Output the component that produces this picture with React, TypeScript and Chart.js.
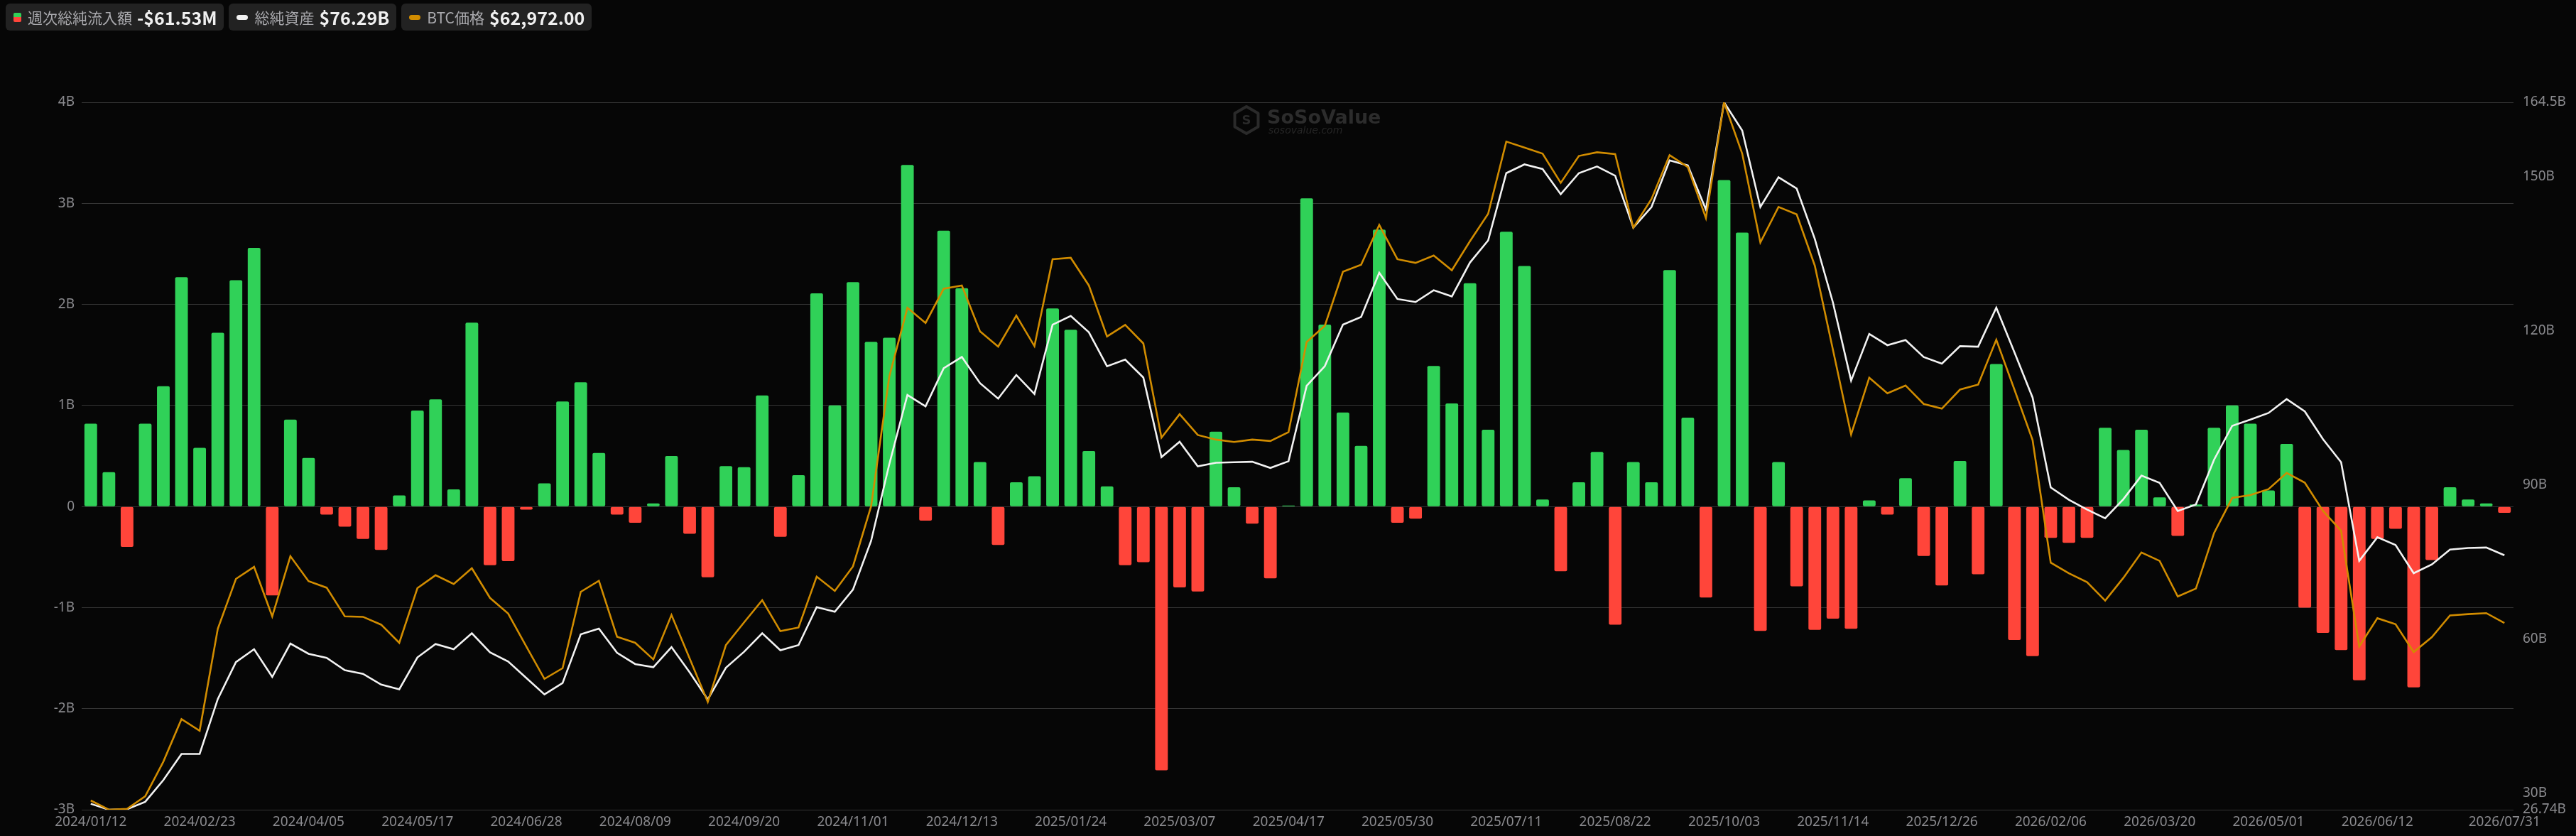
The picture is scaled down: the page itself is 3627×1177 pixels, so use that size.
import React, { useEffect, useRef } from "react";
import { Chart, registerables } from "chart.js";

Chart.register(...registerables);

// ---------- data ----------
const WEEKS: string[] = [
  "2024/01/12", "2024/01/19", "2024/01/26", "2024/02/02", "2024/02/09", "2024/02/16", "2024/02/23", "2024/03/01",
  "2024/03/08", "2024/03/15", "2024/03/22", "2024/03/28", "2024/04/05", "2024/04/12", "2024/04/19", "2024/04/26",
  "2024/05/03", "2024/05/10", "2024/05/17", "2024/05/24", "2024/05/31", "2024/06/07", "2024/06/14", "2024/06/21",
  "2024/06/28", "2024/07/05", "2024/07/12", "2024/07/19", "2024/07/26", "2024/08/02", "2024/08/09", "2024/08/16",
  "2024/08/23", "2024/08/30", "2024/09/06", "2024/09/13", "2024/09/20", "2024/09/27", "2024/10/04", "2024/10/11",
  "2024/10/18", "2024/10/25", "2024/11/01", "2024/11/08", "2024/11/15", "2024/11/22", "2024/11/29", "2024/12/06",
  "2024/12/13", "2024/12/20", "2024/12/27", "2025/01/03", "2025/01/10", "2025/01/17", "2025/01/24", "2025/01/31",
  "2025/02/07", "2025/02/14", "2025/02/21", "2025/02/28", "2025/03/07", "2025/03/14", "2025/03/21", "2025/03/28",
  "2025/04/04", "2025/04/11", "2025/04/17", "2025/04/25", "2025/05/02", "2025/05/09", "2025/05/16", "2025/05/23",
  "2025/05/30", "2025/06/06", "2025/06/13", "2025/06/20", "2025/06/27", "2025/07/03", "2025/07/11", "2025/07/18",
  "2025/07/25", "2025/08/01", "2025/08/08", "2025/08/15", "2025/08/22", "2025/08/29", "2025/09/05", "2025/09/12",
  "2025/09/19", "2025/09/26", "2025/10/03", "2025/10/10", "2025/10/17", "2025/10/24", "2025/10/31", "2025/11/07",
  "2025/11/14", "2025/11/21", "2025/11/28", "2025/12/05", "2025/12/12", "2025/12/19", "2025/12/26", "2026/01/02",
  "2026/01/09", "2026/01/16", "2026/01/23", "2026/01/30", "2026/02/06", "2026/02/13", "2026/02/20", "2026/02/27",
  "2026/03/06", "2026/03/13", "2026/03/20", "2026/03/27", "2026/04/02", "2026/04/10", "2026/04/17", "2026/04/24",
  "2026/05/01", "2026/05/08", "2026/05/15", "2026/05/22", "2026/05/29", "2026/06/05", "2026/06/12", "2026/06/19",
  "2026/06/26", "2026/07/02", "2026/07/10", "2026/07/17", "2026/07/24", "2026/07/31",
];

// weekly total net inflow, billions USD
const NET_INFLOW_B: number[] = [
  0.82, 0.34, -0.4, 0.82, 1.19, 2.27, 0.58, 1.72, 2.24, 2.56,
  -0.88, 0.86, 0.48, -0.08, -0.2, -0.32, -0.43, 0.11, 0.95, 1.06,
  0.17, 1.82, -0.58, -0.54, -0.03, 0.23, 1.04, 1.23, 0.53, -0.08,
  -0.16, 0.03, 0.5, -0.27, -0.7, 0.4, 0.39, 1.1, -0.3, 0.31,
  2.11, 1.0, 2.22, 1.63, 1.67, 3.38, -0.14, 2.73, 2.16, 0.44,
  -0.38, 0.24, 0.3, 1.96, 1.75, 0.55, 0.2, -0.58, -0.55, -2.61,
  -0.8, -0.84, 0.74, 0.19, -0.17, -0.71, 0.01, 3.05, 1.8, 0.93,
  0.6, 2.74, -0.16, -0.12, 1.39, 1.02, 2.21, 0.76, 2.72, 2.38,
  0.07, -0.64, 0.24, 0.54, -1.17, 0.44, 0.24, 2.34, 0.88, -0.9,
  3.23, 2.71, -1.23, 0.44, -0.79, -1.22, -1.11, -1.21, 0.06, -0.08,
  0.28, -0.49, -0.78, 0.45, -0.67, 1.41, -1.32, -1.48, -0.31, -0.36,
  -0.31, 0.78, 0.56, 0.76, 0.09, -0.29, 0.02, 0.78, 1.0, 0.82,
  0.16, 0.62, -1.0, -1.25, -1.42, -1.72, -0.32, -0.22, -1.79, -0.53,
  0.19, 0.07, 0.03, -0.06153,
];

// total net assets, billions USD
const TOTAL_ASSETS_B: number[] = [
  27.9, 26.74, 26.84, 28.28, 32.51, 37.6, 37.6, 48.3, 55.5, 58.0,
  52.6, 59.1, 57.1, 56.3, 53.9, 53.2, 51.1, 50.2, 56.4, 59.0,
  58.0, 61.1, 57.4, 55.6, 52.4, 49.2, 51.4, 60.9, 62.0, 57.3,
  55.1, 54.5, 58.4, 53.5, 48.2, 54.4, 57.5, 61.1, 57.8, 58.8,
  66.2, 65.3, 69.6, 79.1, 94.0, 107.5, 105.3, 112.7, 114.9, 109.8,
  106.8, 111.4, 107.7, 121.2, 122.9, 119.7, 113.1, 114.4, 110.9, 95.4,
  98.4, 93.6, 94.3, 94.4, 94.5, 93.3, 94.6, 109.3, 113.1, 121.2,
  122.7, 131.3, 126.2, 125.6, 127.9, 126.7, 133.3, 137.6, 150.7, 152.4,
  151.5, 146.6, 150.7, 152.0, 150.2, 140.1, 144.1, 153.2, 152.2, 143.6,
  164.5, 159.0, 144.1, 149.9, 147.7, 137.9, 125.5, 110.3, 119.4, 117.2,
  118.2, 114.9, 113.6, 117.0, 116.9, 124.5, 115.8, 107.0, 89.5, 87.1,
  85.2, 83.5, 87.2, 91.8, 90.4, 84.9, 86.2, 94.9, 101.5, 102.7,
  104.0, 106.7, 104.3, 98.9, 94.4, 75.2, 79.8, 78.3, 72.8, 74.5,
  77.4, 77.7, 77.8, 76.29,
];

// BTC price, USD
const BTC_PRICE: number[] = [
  42810, 41760, 41860, 43280, 47220, 52060, 50740, 62310, 67990, 69360,
  63730, 70570, 67730, 66990, 63730, 63680, 62790, 60730, 66940, 68410,
  67410, 69200, 65830, 64050, 60310, 56630, 57840, 66520, 67780, 61420,
  60730, 58840, 63890, 58950, 54000, 60470, 63050, 65570, 62050, 62470,
  68250, 66620, 69410, 76250, 90970, 98800, 97070, 100960, 101330, 96120,
  94390, 97910, 94440, 104320, 104480, 101330, 95540, 96860, 94750, 84030,
  86710, 84340, 83820, 83550, 83820, 83660, 84660, 94910, 96750, 102900,
  103690, 108210, 104320, 103900, 104740, 103060, 106370, 109480, 117680, 117000,
  116310, 113000, 116050, 116470, 116260, 107900, 111160, 116150, 114790, 109000,
  122150, 116310, 106220, 110260, 109420, 103590, 94020, 84400, 90860, 89080,
  89970, 87870, 87340, 89500, 90070, 95170, 89500, 83760, 69830, 68620,
  67620, 65520, 68100, 70990, 70040, 65990, 66890, 73200, 77190, 77510,
  78190, 80030, 78930, 75720, 73460, 60310, 63520, 62840, 59680, 61370,
  63840, 63990, 64100, 62972,
];

const LEFT_MIN = -3;
const LEFT_MAX = 4;
const LEFT_STEP = 1;
const RIGHT_TICKS = [30, 60, 90, 120, 150];
const X_LABEL_EVERY = 6;

const LEGEND_LABELS = ["週次総純流入額", "総純資産", "BTC価格"];

// ---------- styles ----------
const GREEN = "#30d158";
const RED = "#ff453a";
const WHITE = "#f2f2f2";
const ORANGE = "#d18c00";
const GRID = "#343434";
const TICK = "#8a8a8e";
const BG = "#060606";

const W = 3627;
const H = 1177;

function fmtB(v: number): string {
  const s = Number.isInteger(v) ? String(v) : String(Math.round(v * 100) / 100);
  return s + "B";
}

const watermark = {
  id: "watermark",
  beforeDatasetsDraw(chart: any) {
    const ctx = chart.ctx;
    ctx.save();
    const cx = 1755;
    const cy = 169;
    const r = 19;
    ctx.strokeStyle = "#2a2a2a";
    ctx.fillStyle = "#2a2a2a";
    ctx.lineWidth = 4;
    ctx.lineJoin = "round";
    ctx.beginPath();
    for (let k = 0; k < 6; k++) {
      const a = Math.PI / 6 + (k * Math.PI) / 3;
      const px = cx + r * Math.cos(a);
      const py = cy + r * Math.sin(a);
      if (k === 0) ctx.moveTo(px, py);
      else ctx.lineTo(px, py);
    }
    ctx.closePath();
    ctx.stroke();
    ctx.font = "bold 18px 'DejaVu Sans', sans-serif";
    ctx.textAlign = "center";
    ctx.textBaseline = "middle";
    ctx.fillText("S", cx, cy + 1);
    ctx.textAlign = "left";
    ctx.textBaseline = "alphabetic";
    ctx.fillStyle = "#2c2c2c";
    ctx.font = "bold 27px 'DejaVu Sans', sans-serif";
    ctx.fillText("SoSoValue", 1784, 174);
    ctx.fillStyle = "#262626";
    ctx.font = "italic 14px 'DejaVu Sans', sans-serif";
    ctx.fillText("sosovalue.com", 1786, 188);
    ctx.restore();
  },
};

export default function App() {
  const canvasRef = useRef<HTMLCanvasElement | null>(null);

  useEffect(() => {
    const canvas = canvasRef.current;
    if (!canvas) return;
    const btcMin = Math.min(...BTC_PRICE);
    const btcMax = Math.max(...BTC_PRICE);
    const aMin = Math.min(...TOTAL_ASSETS_B);
    const aMax = Math.max(...TOTAL_ASSETS_B);
    const last = WEEKS.length - 1;

    const chart = new Chart(canvas, {
      type: "bar",
      data: {
        labels: WEEKS,
        datasets: [
          {
            type: "line",
            label: "BTC価格",
            data: BTC_PRICE,
            yAxisID: "yBtc",
            borderColor: ORANGE,
            borderWidth: 2.6,
            pointRadius: 0,
            tension: 0,
            order: 0,
          } as any,
          {
            type: "line",
            label: "総純資産",
            data: TOTAL_ASSETS_B,
            yAxisID: "yRight",
            borderColor: WHITE,
            borderWidth: 2.6,
            pointRadius: 0,
            tension: 0,
            order: 1,
          } as any,
          {
            type: "bar",
            label: "週次総純流入額",
            data: NET_INFLOW_B,
            yAxisID: "yLeft",
            backgroundColor: NET_INFLOW_B.map((v) => (v >= 0 ? GREEN : RED)),
            borderRadius: 2,
            borderSkipped: false,
            categoryPercentage: 1,
            barPercentage: 0.7,
            order: 2,
          } as any,
        ],
      },
      options: {
        responsive: false,
        devicePixelRatio: 1,
        animation: false,
        layout: { padding: { top: 144, left: 0, right: 0, bottom: 0 } },
        plugins: {
          legend: { display: false },
          tooltip: { enabled: false },
        },
        scales: {
          x: {
            type: "category",
            offset: true,
            grid: { display: false, drawTicks: false },
            border: { display: false },
            ticks: {
              autoSkip: false,
              maxRotation: 0,
              minRotation: 0,
              padding: 6,
              color: TICK,
              font: { size: 19, family: "'Noto Sans', sans-serif" },
              callback: (_v: any, i: number) =>
                (i % X_LABEL_EVERY === 0 && i <= last - X_LABEL_EVERY - 1) || i === last ? WEEKS[i] : null,
            },
            afterFit: (s: any) => {
              s.height = 37;
            },
          },
          yLeft: {
            type: "linear",
            position: "left",
            min: LEFT_MIN,
            max: LEFT_MAX,
            grid: { color: GRID, lineWidth: 1, drawTicks: false },
            border: { display: false },
            ticks: {
              stepSize: LEFT_STEP,
              padding: 10,
              color: TICK,
              font: { size: 19, family: "'Noto Sans', sans-serif" },
              callback: (v: any) => (Number(v) === 0 ? "0" : fmtB(Number(v))),
            },
            afterFit: (s: any) => {
              s.width = 115;
            },
          },
          yRight: {
            type: "linear",
            position: "right",
            min: aMin,
            max: aMax,
            grid: { display: false, drawTicks: false },
            border: { display: false },
            afterBuildTicks: (s: any) => {
              s.ticks = [aMin, ...RIGHT_TICKS, aMax].map((value) => ({ value }));
            },
            ticks: {
              autoSkip: false,
              padding: 13,
              color: TICK,
              font: { size: 19, family: "'Noto Sans', sans-serif" },
              callback: (v: any) => fmtB(Number(v)),
            },
            afterFit: (s: any) => {
              s.width = 88;
            },
          },
          yBtc: {
            type: "linear",
            display: false,
            min: btcMin,
            max: btcMax,
          },
        },
      } as any,
      plugins: [watermark],
    });
    return () => chart.destroy();
  }, []);

  const lastFlow = NET_INFLOW_B[NET_INFLOW_B.length - 1];
  const lastAssets = TOTAL_ASSETS_B[TOTAL_ASSETS_B.length - 1];
  const lastBtc = BTC_PRICE[BTC_PRICE.length - 1];
  const legendValues = [
    (lastFlow < 0 ? "-$" : "$") + (Math.abs(lastFlow) * 1000).toFixed(2) + "M",
    "$" + lastAssets.toFixed(2) + "B",
    "$" + lastBtc.toLocaleString("en-US", { minimumFractionDigits: 2, maximumFractionDigits: 2 }),
  ];

  const swatches = [
    <div
      key="s0"
      style={{
        width: 11,
        height: 13,
        borderRadius: 2,
        background: `linear-gradient(${GREEN} 0%, ${GREEN} 50%, ${RED} 50%, ${RED} 100%)`,
      }}
    />,
    <div key="s1" style={{ width: 16, height: 7, borderRadius: 4, background: WHITE }} />,
    <div key="s2" style={{ width: 16, height: 7, borderRadius: 4, background: ORANGE }} />,
  ];

  return (
    <div
      style={{
        position: "fixed",
        left: 0,
        top: 0,
        width: W,
        height: H,
        background: BG,
        overflow: "hidden",
      }}
    >
      <canvas
        ref={canvasRef}
        width={W}
        height={H}
        style={{ position: "absolute", left: 0, top: 0, width: W, height: H, display: "block" }}
      />
      <div
        style={{
          position: "absolute",
          left: 8,
          top: 5,
          display: "flex",
          gap: 7,
          fontFamily: "'Noto Sans CJK JP', 'Noto Sans', sans-serif",
        }}
      >
        {LEGEND_LABELS.map((label, i) => (
          <div
            key={label}
            style={{
              display: "flex",
              alignItems: "center",
              height: 38,
              padding: "0 10px 0 11px",
              background: "#222222",
              borderRadius: 6,
              whiteSpace: "nowrap",
            }}
          >
            {swatches[i]}
            <span style={{ color: "#a9a9ad", fontSize: 21, marginLeft: 9, lineHeight: "38px" }}>{label}</span>
            <span style={{ color: "#f0f0f0", fontSize: 25, fontWeight: 700, marginLeft: 7, lineHeight: "38px" }}>
              {legendValues[i]}
            </span>
          </div>
        ))}
      </div>
    </div>
  );
}
